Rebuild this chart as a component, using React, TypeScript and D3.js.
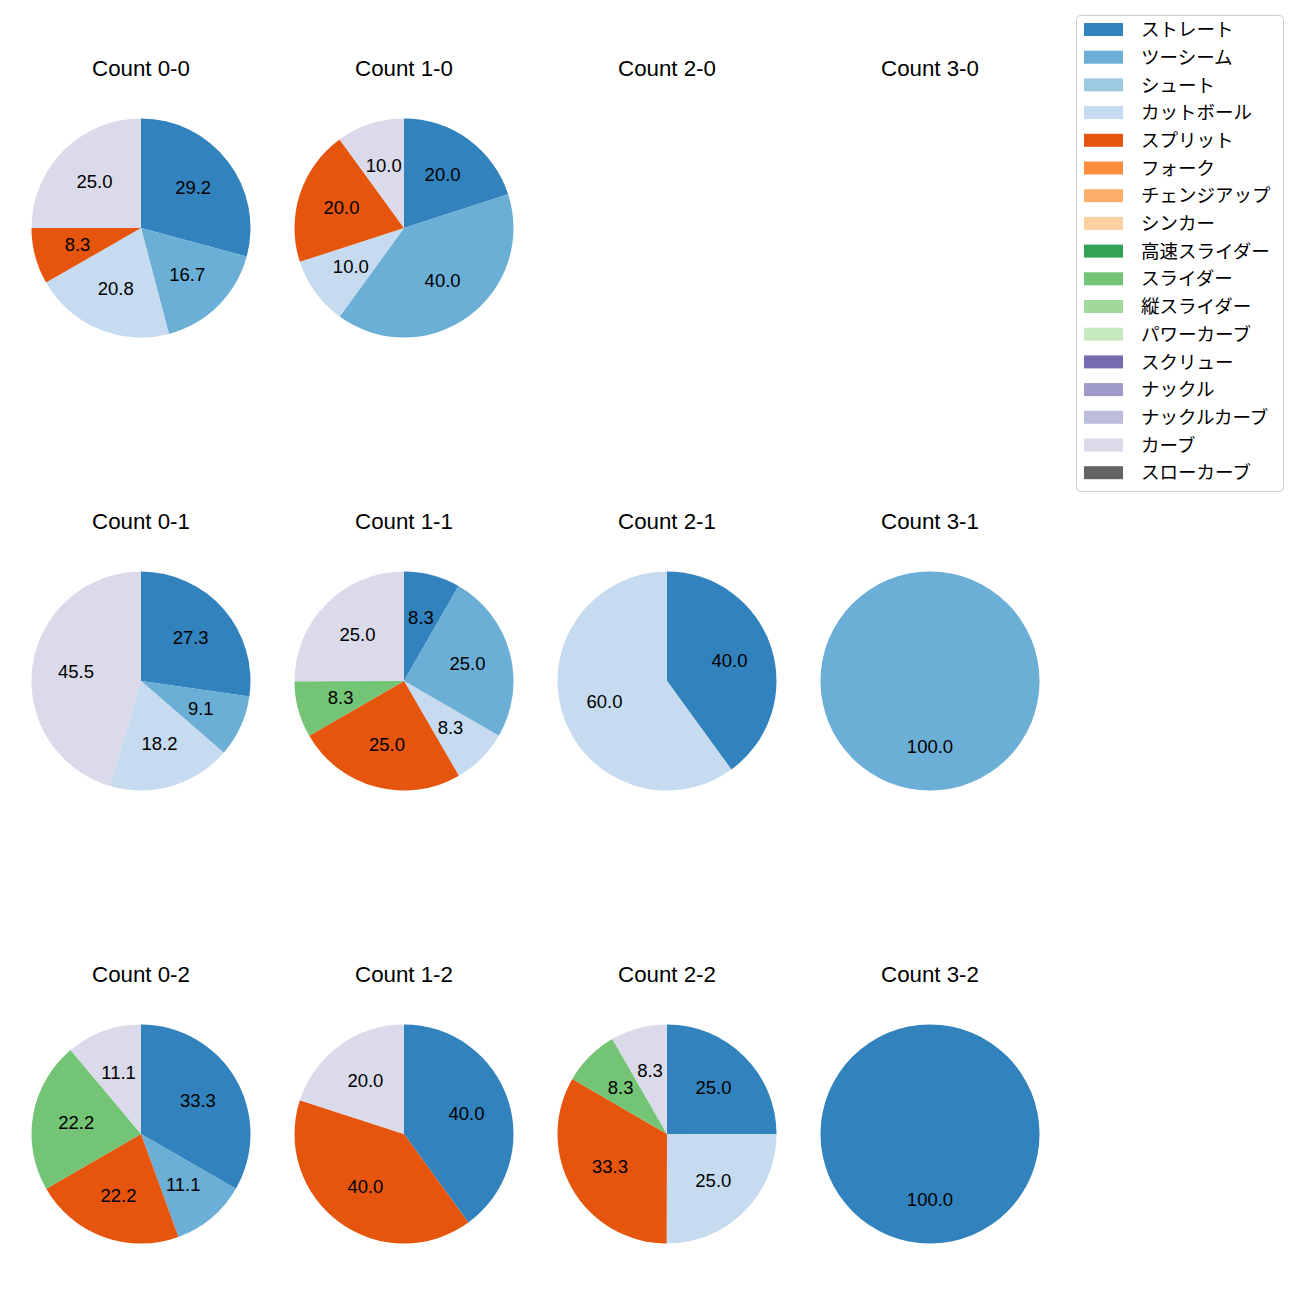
import React from "react";
import * as d3 from "d3";

const pitchTypes = [
  "ストレート", "ツーシーム", "シュート", "カットボール", "スプリット", "フォーク",
  "チェンジアップ", "シンカー", "高速スライダー", "スライダー", "縦スライダー",
  "パワーカーブ", "スクリュー", "ナックル", "ナックルカーブ", "カーブ", "スローカーブ",
];
const pitchColors = [
  "#3182bd", "#6baed6", "#9ecae1", "#c6dbef", "#e6550d", "#fd8d3c",
  "#fdae6b", "#fdd0a2", "#31a354", "#74c476", "#a1d99b", "#c7e9c0",
  "#756bb1", "#9e9ac8", "#bcbddc", "#dadaeb", "#636363",
];

// Percentages per pitch type (same order as pitchTypes)
const count00 = [29.2, 16.7, 0, 20.8, 8.3, 0, 0, 0, 0, 0, 0, 0, 0, 0, 0, 25.0, 0];
const count10 = [20.0, 40.0, 0, 10.0, 20.0, 0, 0, 0, 0, 0, 0, 0, 0, 0, 0, 10.0, 0];
const count20: number[] = [];
const count30: number[] = [];
const count01 = [27.3, 9.1, 0, 18.2, 0, 0, 0, 0, 0, 0, 0, 0, 0, 0, 0, 45.5, 0];
const count11 = [8.3, 25.0, 0, 8.3, 25.0, 0, 0, 0, 0, 8.3, 0, 0, 0, 0, 0, 25.0, 0];
const count21 = [40.0, 0, 0, 60.0, 0, 0, 0, 0, 0, 0, 0, 0, 0, 0, 0, 0, 0];
const count31 = [0, 100.0, 0, 0, 0, 0, 0, 0, 0, 0, 0, 0, 0, 0, 0, 0, 0];
const count02 = [33.3, 11.1, 0, 0, 22.2, 0, 0, 0, 0, 22.2, 0, 0, 0, 0, 0, 11.1, 0];
const count12 = [40.0, 0, 0, 0, 40.0, 0, 0, 0, 0, 0, 0, 0, 0, 0, 0, 20.0, 0];
const count22 = [25.0, 0, 0, 25.0, 33.3, 0, 0, 0, 0, 8.3, 0, 0, 0, 0, 0, 8.3, 0];
const count32 = [100.0, 0, 0, 0, 0, 0, 0, 0, 0, 0, 0, 0, 0, 0, 0, 0, 0];

const countTitles = [
  ["0-0", "1-0", "2-0", "3-0"],
  ["0-1", "1-1", "2-1", "3-1"],
  ["0-2", "1-2", "2-2", "3-2"],
];
const countData = [
  [count00, count10, count20, count30],
  [count01, count11, count21, count31],
  [count02, count12, count22, count32],
];

const FONT = "'Liberation Sans', 'Noto Sans CJK JP', sans-serif";
const colX = [141, 404, 667, 930];
const rowY = [228, 681, 1134];
const R = 109.5;
const LABEL_FS = 18.5;
const TITLE_FS = 22.3;

type Slice = { value: number; idx: number };

function Pie({ cx, cy, title, values }: { cx: number; cy: number; title: string; values: number[] }) {
  const slices: Slice[] = values
    .map((v, i) => ({ value: v, idx: i }))
    .filter((d) => d.value > 0);
  const pie = d3.pie<Slice>().sort(null).value((d) => d.value).startAngle(0).endAngle(2 * Math.PI);
  const arcs = pie(slices);
  const arc = d3.arc<d3.PieArcDatum<Slice>>().innerRadius(0).outerRadius(R);
  const labelArc = d3.arc<d3.PieArcDatum<Slice>>().innerRadius(R * 0.6).outerRadius(R * 0.6);
  return (
    <g>
      <text x={cx} y={cy - 159.7 + 0.36 * TITLE_FS} textAnchor="middle"
        fontFamily={FONT} fontSize={TITLE_FS} fill="#000">{`Count ${title}`}</text>
      <g transform={`translate(${cx},${cy})`}>
        {arcs.map((a, i) => (
          <path key={i} d={arc(a) || ""} fill={pitchColors[a.data.idx]} />
        ))}
        {arcs.map((a, i) => {
          const [lx, ly] = labelArc.centroid(a);
          return (
            <text key={"t" + i} x={lx} y={ly + 0.34 * LABEL_FS} textAnchor="middle"
              fontFamily={FONT} fontSize={LABEL_FS} fill="#000">{a.data.value.toFixed(1)}</text>
          );
        })}
      </g>
    </g>
  );
}

function Legend() {
  const x0 = 1076, y0 = 15, w = 207, h = 476;
  const step = 27.7;
  return (
    <g>
      <rect x={x0 + 0.5} y={y0 + 0.5} width={w} height={h} rx={4} ry={4}
        fill="#fff" fillOpacity={0.8} stroke="#cccccc" strokeWidth={1} />
      {pitchTypes.map((p, i) => {
        const cy = 29.5 + i * step;
        return (
          <g key={p}>
            <rect x={1084} y={cy - 6.5} width={39} height={13} fill={pitchColors[i]} />
            <text x={1141} y={cy + 0.36 * LABEL_FS} fontFamily={FONT} fontSize={LABEL_FS} fill="#000">{p}</text>
          </g>
        );
      })}
    </g>
  );
}

export default function App() {
  return (
    <svg width={1300} height={1300} style={{ position: "absolute", left: 0, top: 0, background: "#fff" }}>
      <rect x={0} y={0} width={1300} height={1300} fill="#fff" />
      {countData.map((row, r) =>
        row.map((vals, c) => (
          <Pie key={`${r}-${c}`} cx={colX[c]} cy={rowY[r]} title={countTitles[r][c]} values={vals} />
        ))
      )}
      <Legend />
    </svg>
  );
}
